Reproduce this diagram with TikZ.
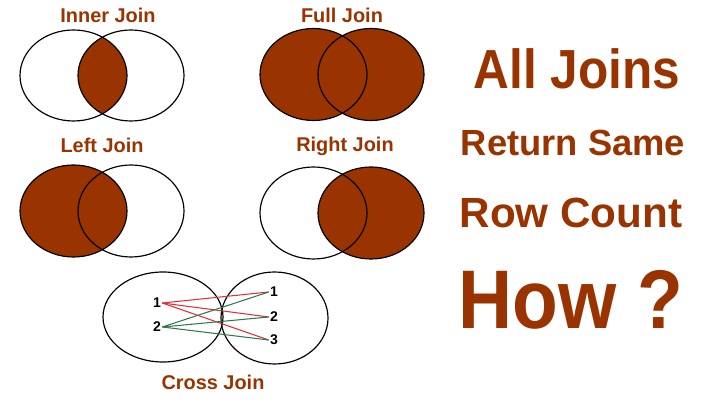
\documentclass[tikz,border=0pt]{standalone}
\usepackage{fontspec}
\setmainfont{Liberation Sans}
\newfontfamily\narrowfont{Liberation Sans}[FakeStretch=0.9]
\usepackage{tikz}
\usetikzlibrary{calc,positioning}
\definecolor{JoinBrown}{HTML}{993300}
\definecolor{JoinRed}{HTML}{E0303A}
\definecolor{JoinGreen}{HTML}{2E7A4A}

\begin{document}
\begin{tikzpicture}[x=0.03cm,y=-0.03cm,
        ttl/.style={font=\bfseries\fontsize{17pt}{19pt}\selectfont,text=JoinBrown,inner sep=0pt},
        big/.style={font=\bfseries,text=JoinBrown,inner sep=0pt},
        num/.style={font=\bfseries\fontsize{12pt}{13pt}\selectfont,inner sep=1pt},
        ring/.style={draw=black,line width=1pt},
        rl/.style={JoinRed,line width=0.9pt},
        gl/.style={JoinGreen,line width=0.9pt}]
        \useasboundingbox (0,0) rectangle (720,404);
        % inner join
        \begin{scope}\clip (73.5,75.5) ellipse [x radius=53.5,y radius=45.5]; \fill[JoinBrown] (131,75.5) ellipse [x radius=53,y radius=45.5];\end{scope}
        \draw[ring] (73.5,75.5) ellipse [x radius=53.5,y radius=45.5]; \draw[ring] (131,75.5) ellipse [x radius=53,y radius=45.5];
        \node[ttl] (inner) at (108,15) {Inner Join};
        % full join
        \fill[JoinBrown] (313.5,74.5) ellipse [x radius=53.5,y radius=46]; \fill[JoinBrown] (371,74.5) ellipse [x radius=53,y radius=46];
        \draw[ring] (313.5,74.5) ellipse [x radius=53.5,y radius=46]; \draw[ring] (371,74.5) ellipse [x radius=53,y radius=46];
        \node[ttl] (full) at (342,15) {Full Join};
        % left join
        \fill[JoinBrown] (73.5,211) ellipse [x radius=53.5,y radius=46];
        \draw[ring] (73.5,211) ellipse [x radius=53.5,y radius=46]; \draw[ring] (131,211) ellipse [x radius=53,y radius=46];
        \node[ttl] (left) at (102,145) {Left Join};
        % right join
        \fill[JoinBrown] (371,213) ellipse [x radius=53,y radius=46];
        \draw[ring] (313.5,213) ellipse [x radius=53.5,y radius=46]; \draw[ring] (371,213) ellipse [x radius=53,y radius=46];
        \node[ttl] (right) at (345,146) {Right Join};
        % cross join
        \draw[ring] (163,317) ellipse [x radius=60,y radius=45]; \draw[ring] (274.5,318) ellipse [x radius=53.5,y radius=46];
        \node[num] (l1) at (157,303) {1}; \node[num] (l2) at (157,327) {2};
        \node[num] (r1) at (274,292) {1}; \node[num] (r2) at (274,317) {2}; \node[num] (r3) at (274,340) {3};
        \draw[rl] (l1.east)--(r1.west); \draw[rl] (l1.east)--(r2.west); \draw[rl] (l1.east)--(r3.west);
        \draw[gl] (l2.east)--(r1.west); \draw[gl] (l2.east)--(r2.west); \draw[gl] (l2.east)--(r3.west);
        \node[ttl] (cross) at (213,382) {Cross Join};
        % question
        \node[big,font=\narrowfont\bfseries\fontsize{47pt}{49pt}\selectfont] (all) at (577,69) {All Joins};
        \node[big,font=\bfseries\fontsize{31pt}{33pt}\selectfont] (ret) at (573,143) {Return Same};
        \node[big,font=\bfseries\fontsize{36pt}{38pt}\selectfont] (row) at (571,213) {Row Count};
        \node[big,font=\narrowfont\bfseries\fontsize{71pt}{73pt}\selectfont] (how) at (571,300) {How ?};
      \end{tikzpicture}
\end{document}
